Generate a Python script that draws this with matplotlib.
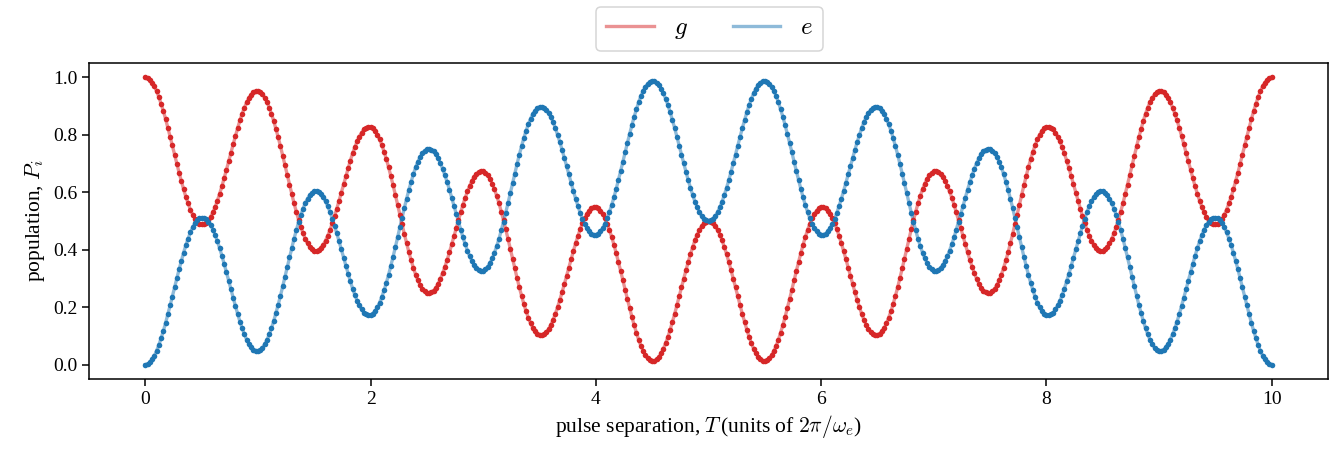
import numpy as np
import matplotlib
matplotlib.use("Agg")
import matplotlib.pyplot as plt

# pulse separation range (units of 2pi/omega_e)
T_FIRST, T_LAST = 0.0, 10.0

# population of ground state g
pop_g = [
    1.000, 0.998, 0.992, 0.982, 0.969, 0.952, 0.932, 0.908, 0.883, 0.855,
    0.825, 0.794, 0.763, 0.731, 0.699, 0.668, 0.639, 0.610, 0.584, 0.561,
    0.540, 0.522, 0.508, 0.497, 0.491, 0.488, 0.489, 0.494, 0.502, 0.515,
    0.530, 0.549, 0.571, 0.595, 0.621, 0.649, 0.678, 0.708, 0.738, 0.767,
    0.796, 0.824, 0.850, 0.874, 0.895, 0.913, 0.928, 0.940, 0.948, 0.952,
    0.952, 0.948, 0.941, 0.929, 0.914, 0.895, 0.873, 0.848, 0.820, 0.791,
    0.760, 0.727, 0.694, 0.660, 0.627, 0.594, 0.562, 0.533, 0.505, 0.480,
    0.457, 0.438, 0.422, 0.410, 0.401, 0.397, 0.396, 0.400, 0.407, 0.418,
    0.432, 0.449, 0.469, 0.492, 0.517, 0.543, 0.571, 0.599, 0.628, 0.656,
    0.684, 0.710, 0.735, 0.757, 0.777, 0.794, 0.808, 0.819, 0.825, 0.828,
    0.827, 0.822, 0.813, 0.801, 0.784, 0.764, 0.741, 0.715, 0.687, 0.656,
    0.624, 0.591, 0.556, 0.522, 0.488, 0.454, 0.422, 0.391, 0.363, 0.337,
    0.313, 0.293, 0.277, 0.264, 0.255, 0.250, 0.249, 0.252, 0.258, 0.268,
    0.282, 0.299, 0.319, 0.341, 0.365, 0.391, 0.419, 0.447, 0.475, 0.503,
    0.530, 0.557, 0.581, 0.603, 0.623, 0.640, 0.654, 0.664, 0.671, 0.674,
    0.673, 0.668, 0.659, 0.646, 0.630, 0.610, 0.587, 0.562, 0.533, 0.503,
    0.471, 0.438, 0.404, 0.369, 0.335, 0.302, 0.270, 0.240, 0.212, 0.186,
    0.164, 0.144, 0.128, 0.116, 0.108, 0.103, 0.102, 0.106, 0.113, 0.124,
    0.138, 0.156, 0.176, 0.200, 0.225, 0.252, 0.280, 0.309, 0.338, 0.367,
    0.395, 0.422, 0.447, 0.471, 0.492, 0.510, 0.524, 0.536, 0.544, 0.548,
    0.548, 0.544, 0.536, 0.525, 0.510, 0.491, 0.469, 0.445, 0.418, 0.389,
    0.358, 0.326, 0.294, 0.261, 0.228, 0.197, 0.166, 0.137, 0.111, 0.086,
    0.065, 0.047, 0.033, 0.022, 0.015, 0.012, 0.013, 0.018, 0.027, 0.040,
    0.056, 0.075, 0.097, 0.122, 0.149, 0.177, 0.207, 0.238, 0.269, 0.299,
    0.329, 0.358, 0.385, 0.410, 0.433, 0.453, 0.469, 0.483, 0.492, 0.498,
    0.500,
    0.498, 0.492, 0.483, 0.469, 0.453, 0.433, 0.410, 0.385, 0.358, 0.329,
    0.299, 0.269, 0.238, 0.207, 0.177, 0.149, 0.122, 0.097, 0.075, 0.056,
    0.040, 0.027, 0.018, 0.013, 0.012, 0.015, 0.022, 0.033, 0.047, 0.065,
    0.086, 0.111, 0.137, 0.166, 0.197, 0.228, 0.261, 0.294, 0.326, 0.358,
    0.389, 0.418, 0.445, 0.469, 0.491, 0.510, 0.525, 0.536, 0.544, 0.548,
    0.548, 0.544, 0.536, 0.524, 0.510, 0.492, 0.471, 0.447, 0.422, 0.395,
    0.367, 0.338, 0.309, 0.280, 0.252, 0.225, 0.200, 0.176, 0.156, 0.138,
    0.124, 0.113, 0.106, 0.102, 0.103, 0.108, 0.116, 0.128, 0.144, 0.164,
    0.186, 0.212, 0.240, 0.270, 0.302, 0.335, 0.369, 0.404, 0.438, 0.471,
    0.503, 0.533, 0.562, 0.587, 0.610, 0.630, 0.646, 0.659, 0.668, 0.673,
    0.674, 0.671, 0.664, 0.654, 0.640, 0.623, 0.603, 0.581, 0.557, 0.530,
    0.503, 0.475, 0.447, 0.419, 0.391, 0.365, 0.341, 0.319, 0.299, 0.282,
    0.268, 0.258, 0.252, 0.249, 0.250, 0.255, 0.264, 0.277, 0.293, 0.313,
    0.337, 0.363, 0.391, 0.422, 0.454, 0.488, 0.522, 0.556, 0.591, 0.624,
    0.656, 0.687, 0.715, 0.741, 0.764, 0.784, 0.801, 0.813, 0.822, 0.827,
    0.828, 0.825, 0.819, 0.808, 0.794, 0.777, 0.757, 0.735, 0.710, 0.684,
    0.656, 0.628, 0.599, 0.571, 0.543, 0.517, 0.492, 0.469, 0.449, 0.432,
    0.418, 0.407, 0.400, 0.396, 0.397, 0.401, 0.410, 0.422, 0.438, 0.457,
    0.480, 0.505, 0.533, 0.562, 0.594, 0.627, 0.660, 0.694, 0.727, 0.760,
    0.791, 0.820, 0.848, 0.873, 0.895, 0.914, 0.929, 0.941, 0.948, 0.952,
    0.952, 0.948, 0.940, 0.928, 0.913, 0.895, 0.874, 0.850, 0.824, 0.796,
    0.767, 0.738, 0.708, 0.678, 0.649, 0.621, 0.595, 0.571, 0.549, 0.530,
    0.515, 0.502, 0.494, 0.489, 0.488, 0.491, 0.497, 0.508, 0.522, 0.540,
    0.561, 0.584, 0.610, 0.639, 0.668, 0.699, 0.731, 0.763, 0.794, 0.825,
    0.855, 0.883, 0.908, 0.932, 0.952, 0.969, 0.982, 0.992, 0.998, 1.000,
]

# population of excited state e
pop_e = [
    0.000, 0.002, 0.008, 0.018, 0.031, 0.048, 0.068, 0.092, 0.117, 0.145,
    0.175, 0.206, 0.237, 0.269, 0.301, 0.332, 0.361, 0.390, 0.416, 0.439,
    0.460, 0.478, 0.492, 0.503, 0.509, 0.512, 0.511, 0.506, 0.498, 0.485,
    0.470, 0.451, 0.429, 0.405, 0.379, 0.351, 0.322, 0.292, 0.262, 0.233,
    0.204, 0.176, 0.150, 0.126, 0.105, 0.087, 0.072, 0.060, 0.052, 0.048,
    0.048, 0.052, 0.059, 0.071, 0.086, 0.105, 0.127, 0.152, 0.180, 0.209,
    0.240, 0.273, 0.306, 0.340, 0.373, 0.406, 0.438, 0.467, 0.495, 0.520,
    0.543, 0.562, 0.578, 0.590, 0.599, 0.603, 0.604, 0.600, 0.593, 0.582,
    0.568, 0.551, 0.531, 0.508, 0.483, 0.457, 0.429, 0.401, 0.372, 0.344,
    0.316, 0.290, 0.265, 0.243, 0.223, 0.206, 0.192, 0.181, 0.175, 0.172,
    0.173, 0.178, 0.187, 0.199, 0.216, 0.236, 0.259, 0.285, 0.313, 0.344,
    0.376, 0.409, 0.444, 0.478, 0.512, 0.546, 0.578, 0.609, 0.637, 0.663,
    0.687, 0.707, 0.723, 0.736, 0.745, 0.750, 0.751, 0.748, 0.742, 0.732,
    0.718, 0.701, 0.681, 0.659, 0.635, 0.609, 0.581, 0.553, 0.525, 0.497,
    0.470, 0.443, 0.419, 0.397, 0.377, 0.360, 0.346, 0.336, 0.329, 0.326,
    0.327, 0.332, 0.341, 0.354, 0.370, 0.390, 0.413, 0.438, 0.467, 0.497,
    0.529, 0.562, 0.596, 0.631, 0.665, 0.698, 0.730, 0.760, 0.788, 0.814,
    0.836, 0.856, 0.872, 0.884, 0.892, 0.897, 0.898, 0.894, 0.887, 0.876,
    0.862, 0.844, 0.824, 0.800, 0.775, 0.748, 0.720, 0.691, 0.662, 0.633,
    0.605, 0.578, 0.553, 0.529, 0.508, 0.490, 0.476, 0.464, 0.456, 0.452,
    0.452, 0.456, 0.464, 0.475, 0.490, 0.509, 0.531, 0.555, 0.582, 0.611,
    0.642, 0.674, 0.706, 0.739, 0.772, 0.803, 0.834, 0.863, 0.889, 0.914,
    0.935, 0.953, 0.967, 0.978, 0.985, 0.988, 0.987, 0.982, 0.973, 0.960,
    0.944, 0.925, 0.903, 0.878, 0.851, 0.823, 0.793, 0.762, 0.731, 0.701,
    0.671, 0.642, 0.615, 0.590, 0.567, 0.547, 0.531, 0.517, 0.508, 0.502,
    0.500,
    0.502, 0.508, 0.517, 0.531, 0.547, 0.567, 0.590, 0.615, 0.642, 0.671,
    0.701, 0.731, 0.762, 0.793, 0.823, 0.851, 0.878, 0.903, 0.925, 0.944,
    0.960, 0.973, 0.982, 0.987, 0.988, 0.985, 0.978, 0.967, 0.953, 0.935,
    0.914, 0.889, 0.863, 0.834, 0.803, 0.772, 0.739, 0.706, 0.674, 0.642,
    0.611, 0.582, 0.555, 0.531, 0.509, 0.490, 0.475, 0.464, 0.456, 0.452,
    0.452, 0.456, 0.464, 0.476, 0.490, 0.508, 0.529, 0.553, 0.578, 0.605,
    0.633, 0.662, 0.691, 0.720, 0.748, 0.775, 0.800, 0.824, 0.844, 0.862,
    0.876, 0.887, 0.894, 0.898, 0.897, 0.892, 0.884, 0.872, 0.856, 0.836,
    0.814, 0.788, 0.760, 0.730, 0.698, 0.665, 0.631, 0.596, 0.562, 0.529,
    0.497, 0.467, 0.438, 0.413, 0.390, 0.370, 0.354, 0.341, 0.332, 0.327,
    0.326, 0.329, 0.336, 0.346, 0.360, 0.377, 0.397, 0.419, 0.443, 0.470,
    0.497, 0.525, 0.553, 0.581, 0.609, 0.635, 0.659, 0.681, 0.701, 0.718,
    0.732, 0.742, 0.748, 0.751, 0.750, 0.745, 0.736, 0.723, 0.707, 0.687,
    0.663, 0.637, 0.609, 0.578, 0.546, 0.512, 0.478, 0.444, 0.409, 0.376,
    0.344, 0.313, 0.285, 0.259, 0.236, 0.216, 0.199, 0.187, 0.178, 0.173,
    0.172, 0.175, 0.181, 0.192, 0.206, 0.223, 0.243, 0.265, 0.290, 0.316,
    0.344, 0.372, 0.401, 0.429, 0.457, 0.483, 0.508, 0.531, 0.551, 0.568,
    0.582, 0.593, 0.600, 0.604, 0.603, 0.599, 0.590, 0.578, 0.562, 0.543,
    0.520, 0.495, 0.467, 0.438, 0.406, 0.373, 0.340, 0.306, 0.273, 0.240,
    0.209, 0.180, 0.152, 0.127, 0.105, 0.086, 0.071, 0.059, 0.052, 0.048,
    0.048, 0.052, 0.060, 0.072, 0.087, 0.105, 0.126, 0.150, 0.176, 0.204,
    0.233, 0.262, 0.292, 0.322, 0.351, 0.379, 0.405, 0.429, 0.451, 0.470,
    0.485, 0.498, 0.506, 0.511, 0.512, 0.509, 0.503, 0.492, 0.478, 0.460,
    0.439, 0.416, 0.390, 0.361, 0.332, 0.301, 0.269, 0.237, 0.206, 0.175,
    0.145, 0.117, 0.092, 0.068, 0.048, 0.031, 0.018, 0.008, 0.002, 0.000,
]

series_labels = [r"$g$", r"$e$"]
series_colors = ["#d62728", "#1f77b4"]

plt.rcParams["font.family"] = ["Liberation Serif", "DejaVu Serif"]
plt.rcParams["mathtext.fontset"] = "cm"

fig = plt.figure(figsize=(13.35, 4.53), dpi=100)
ax = fig.add_axes([89 / 1335, 1 - 379 / 453, (1328 - 89) / 1335, (379 - 63) / 453])

T_g = np.linspace(T_FIRST, T_LAST, len(pop_g))
T_e = np.linspace(T_FIRST, T_LAST, len(pop_e))

handles = []
for T, pop, lab, col in [(T_g, pop_g, series_labels[0], series_colors[0]),
                         (T_e, pop_e, series_labels[1], series_colors[1])]:
    h, = ax.plot(T, pop, color=col, alpha=0.5, lw=2.4, label=lab, zorder=2)
    ax.plot(T, pop, ls="none", marker="o", ms=4.0, color=col,
            markeredgewidth=0, zorder=3)
    handles.append(h)

for sp in ax.spines.values():
    sp.set_linewidth(1.1)

ax.set_xlabel(r"pulse separation, $T\,$(units of $2\pi/\omega_e$)", fontsize=15.5)
ax.set_ylabel(r"population, $P_i$", fontsize=15.5)
ax.tick_params(labelsize=14, length=5, width=1.1)
ax.set_xticks([0, 2, 4, 6, 8, 10])
ax.set_yticks([0.0, 0.2, 0.4, 0.6, 0.8, 1.0])

leg = fig.legend(handles=handles, loc="upper center", bbox_to_anchor=(0.5315, 0.985),
                 borderaxespad=0.0, ncol=2, fontsize=18, handlelength=1.9,
                 columnspacing=1.8, frameon=True, fancybox=True)
leg.get_frame().set_edgecolor("#cccccc")
leg.get_frame().set_linewidth(1.1)

fig.savefig("out.png", dpi=100)
